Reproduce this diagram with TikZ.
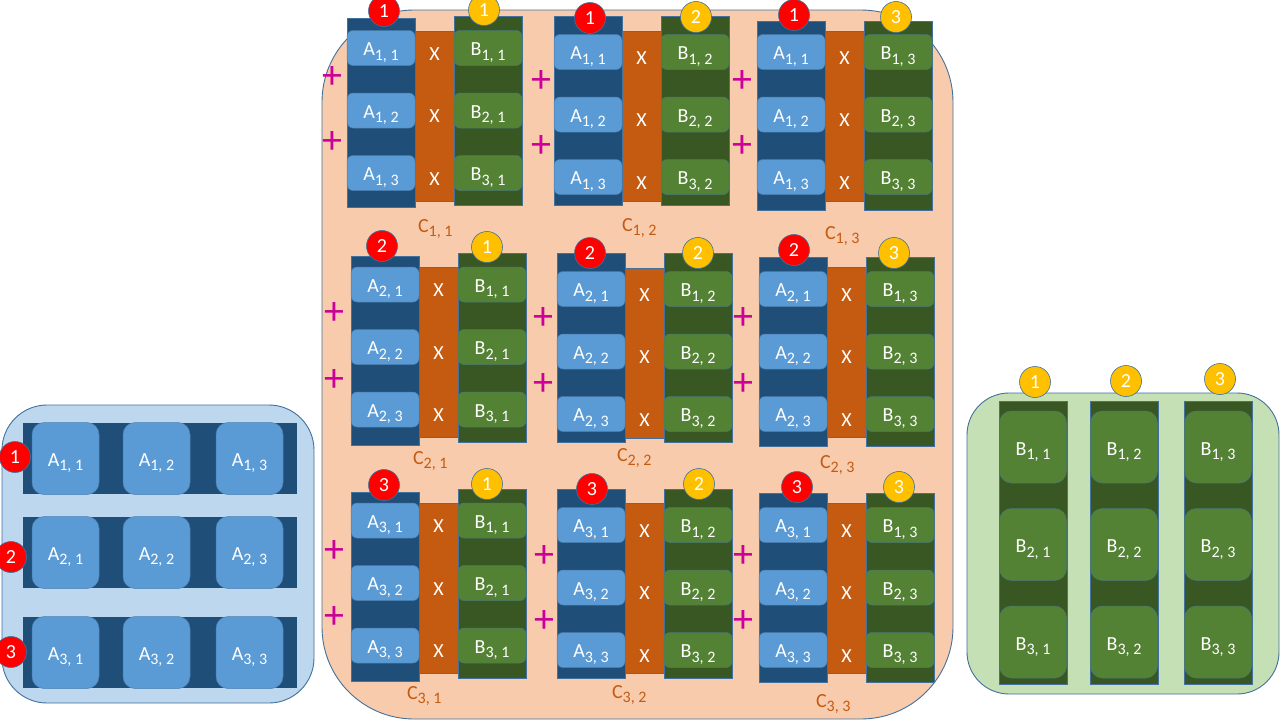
\documentclass[tikz,border=0pt]{standalone}
\usepackage{fontspec}
\setmainfont{Carlito}
\definecolor{edge}{HTML}{41719C}
\definecolor{adark}{HTML}{1F4E79}
\definecolor{acell}{HTML}{5B9BD5}
\definecolor{bdark}{HTML}{385723}
\definecolor{bcell}{HTML}{548235}
\definecolor{orng}{HTML}{C55A11}
\definecolor{lpanel}{HTML}{BDD7EE}
\definecolor{rpanel}{HTML}{C5E0B4}
\definecolor{cpanel}{HTML}{F8CBAD}
\definecolor{redc}{HTML}{FF0000}
\definecolor{yelc}{HTML}{FFC000}
\definecolor{plusc}{HTML}{CC0099}
\newcommand\mlab[3]{#1\raisebox{-4.5pt}{\fontsize{16}{16}\selectfont #2, #3}}
\tikzset{
  every node/.style={inner sep=0pt, outer sep=0pt},
  panel/.style={draw=edge, line width=0.9pt, anchor=north west},
  acolumn/.style={fill=adark, draw=edge, line width=0.6pt, anchor=north west, minimum width=68pt, minimum height=189pt},
  bcolumn/.style={fill=bdark, draw=edge, line width=0.6pt, anchor=north west, minimum width=68pt, minimum height=189pt},
  ocolumn/.style={fill=orng, draw=edge, line width=0.6pt, anchor=north west, minimum width=39pt, minimum height=170pt},
  asmall/.style={fill=acell, draw=edge!70!acell, line width=0.5pt, rounded corners=6pt, minimum width=68pt, minimum height=35pt},
  bsmall/.style={fill=bcell, draw=edge!60!bcell, line width=0.5pt, rounded corners=6pt, minimum width=68pt, minimum height=35pt},
  abig/.style={fill=acell, draw=edge!60!acell, line width=0.5pt, rounded corners=12pt, minimum width=67pt, minimum height=72pt},
  bbig/.style={fill=bcell, draw=edge!60!bcell, line width=0.5pt, rounded corners=12pt, minimum width=67pt, minimum height=72pt},
  celltext/.style={anchor=base, text=white, font=\fontsize{20}{24}\selectfont},
  clabel/.style={anchor=base west, text=orng, font=\fontsize{20}{24}\selectfont},
  rcirc/.style={circle, fill=redc, draw=edge, line width=0.6pt, minimum size=31pt, text=white, font=\fontsize{20}{24}\selectfont},
  ycirc/.style={circle, fill=yelc, draw=edge, line width=0.6pt, minimum size=31pt, text=white, font=\fontsize{20}{24}\selectfont},
  plussign/.style={text=plusc, font=\fontsize{40}{40}\selectfont},
}
\begin{document}
\begin{tikzpicture}[x=1pt, y=-1pt]
\useasboundingbox (0,0) rectangle (1280,720);
\fill[white] (0,0) rectangle (1280,720);

% ---------------- left panel (A) ----------------
\node[panel, fill=lpanel, rounded corners=45pt, minimum width=312pt, minimum height=298pt] (lp) at (2,405) {};
\foreach \r/\yt in {1/423, 2/517, 3/617} {
  \node[fill=adark, anchor=north west, minimum width=274pt, minimum height=71pt] (lrow\r) at (23,\yt) {};
  \foreach \c/\xl in {1/32, 2/123, 3/216} {
    \node[abig] (la\r\c) at ({\xl+33.5},{\yt+35.5}) {};
    \node[celltext] (lat\r\c) at ({\xl+33.5},{\yt+43}) {\mlab{A}{\r}{\c}};
  }
}
\node[rcirc] (lc1) at (15,457) {1};
\node[rcirc] (lc2) at (11,557) {2};
\node[rcirc] (lc3) at (11,652) {3};

% ---------------- right panel (B) ----------------
\node[panel, fill=rpanel, rounded corners=42pt, minimum width=312pt, minimum height=301pt] (rp) at (967,393) {};
\foreach \c/\xl/\cy in {1/999/382, 2/1090/381, 3/1184/379} {
  \node[fill=bdark, draw=edge, line width=0.6pt, anchor=north west, minimum width=68pt, minimum height=283pt] (rcol\c) at (\xl,401) {};
  \foreach \r/\yc in {1/447, 2/544.5, 3/642} {
    \node[bbig] (rb\r\c) at ({\xl+34},\yc) {};
    \node[celltext] (rbt\r\c) at ({\xl+34},{\yc+8}) {\mlab{B}{\r}{\c}};
  }
  \node[ycirc] (rc\c) at ({\xl+36},\cy) {\c};
}

% ---------------- centre panel (C) ----------------
\node[panel, fill=cpanel, rounded corners=92pt, minimum width=631pt, minimum height=709pt] (cp) at (322,10) {};

\foreach \i/\j/\ax/\ay/\by/\oy/\cc/\rx/\ry/\yx/\yy/\clx/\cly in {
  1/1/347/18/16/31/48/384/11/484/10/418/232,
  1/2/554/16/16/31/52/590/18/696/17/622/231,
  1/3/757/21/21/31/52/794/15/896/17/825/239,
  2/1/351/256/253/267/284.5/382/246/487/247/413/464,
  2/2/557/253/253/268/289/590/253/698/253/617/461,
  2/3/759/257/257/267/289/794/250/894/253/820/468,
  3/1/351/492/489/503/520.5/384/485/487/484/407/699,
  3/2/557/489/489/503/525/592/489/699/484/612/698,
  3/3/759/493/493/503/525/797/487/899/487/816/707} {
  \node[acolumn] (acol\i\j) at (\ax,\ay) {};
  \node[bcolumn] (bcol\i\j) at ({\ax+107},\by) {};
  \node[ocolumn] (ocol\i\j) at ({\ax+68},\oy) {};
  \foreach \k in {1,2,3} {
    \node[asmall] (a\i\j\k) at ({\ax+34},{\cc+(\k-1)*62.5}) {};
    \node[celltext] (at\i\j\k) at ({\ax+34},{\cc+(\k-1)*62.5+7.5}) {\mlab{A}{\i}{\k}};
    \node[bsmall] (b\i\j\k) at ({\ax+141},{\cc+(\k-1)*62.5}) {};
    \node[celltext] (bt\i\j\k) at ({\ax+141},{\cc+(\k-1)*62.5+7.5}) {\mlab{B}{\k}{\j}};
    \node[celltext] (x\i\j\k) at ({\ax+87.5},{\cc+(\k-1)*62.5+12}) {X};
  }
  \node[rcirc] (r\i\j) at (\rx,\ry) {\i};
  \node[ycirc] (y\i\j) at (\yx,\yy) {\j};
  \node[clabel] (c\i\j) at (\clx,\cly) {\mlab{C}{\i}{\j}};
}

\foreach \px/\py [count=\n] in {332/78, 332/143, 541/82, 541/147, 742/82, 742/147,
  334/314, 334/380, 543/319, 543/384, 743/319, 743/384,
  334/551, 334/617, 544/556, 544/621, 743/556, 743/621} {
  \node[plussign] (plus\n) at (\px,\py) {+};
}
\end{tikzpicture}
\end{document}
